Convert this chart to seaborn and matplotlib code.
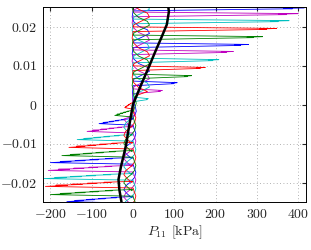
import numpy as np
import pandas as pd
import matplotlib
matplotlib.use('Agg')
import matplotlib.pyplot as plt
import seaborn as sns

# spikes, top to bottom (z, run, tip value in kPa)
spike_z = [0.0248, 0.0233, 0.0215, 0.0195, 0.0174, 0.0154, 0.0136, 0.0115, 0.0095,
           0.0074, 0.0056, 0.0036, 0.0015, -0.0008, -0.0028, -0.0049, -0.0069,
           -0.0090, -0.0110, -0.0131, -0.0149, -0.0169, -0.0190, -0.0210, -0.0231, -0.0249]
spike_run = ['b', 'm', 'c', 'r', 'g'] * 5 + ['b']
spike_tip = [415, 400, 378, 348, 314, 280, 243, 208, 175, 142, 107, 71, 37,
             -20, -44, -82, -111, -135, -155, -172, -200, -205, -215, -212, -200, -160]

# small wiggle between two spikes of the same run (fraction of the gap, kPa)
gap_frac = [0.1, 0.2, 0.3, 0.4, 0.5, 0.62, 0.75, 0.9]
wiggle_top = [3, 22, 40, 35, 14, 2, -2, 0]
wiggle_mid = [1, 4, 8, 6, 2, 0, -1, 0]
wiggle_bot = [-3, -14, -22, -18, -6, 4, 7, 2]

# thick black curve
mean_z = [0.0255, 0.0238, 0.0205, 0.0172, 0.0133, 0.0100, 0.0051, 0.0, -0.0072,
          -0.0100, -0.0115, -0.0159, -0.0192, -0.0218, -0.0255]
mean_p = [85, 87, 82, 69, 53, 40, 20, 0, -12, -16, -19, -29, -35, -33, -27]

runs = ['b', 'm', 'c', 'r', 'g']
cores = {'b': (0, 0, 1), 'm': (0.75, 0, 0.75), 'c': (0, 0.75, 0.75),
         'r': (1, 0, 0), 'g': (0, 0.5, 0)}

xticks = [-200, -100, 0, 100, 200, 300, 400]
yticks = [-0.02, -0.01, 0, 0.01, 0.02]
yticklabels = ['$-0.02$', '$-0.01$', '$0$', '$0.01$', '$0.02$']

# forma da ponta (dz, fracao do pico)
ponta_sup = [(-0.0008, 0.0), (-0.00025, 0.93), (-0.00015, 0.88), (0.0, 1.0), (0.0004, 0.0)]
ponta_inf = [(-0.0004, 0.0), (0.0, 1.0), (0.00025, 0.75), (0.0003, 0.88), (0.0005, 0.58),
             (0.00055, 0.7), (0.00075, 0.42), (0.0008, 0.52), (0.001, 0.25),
             (0.00105, 0.33), (0.0013, 0.0)]

linhas = []
for run in runs:
    idx = [i for i, r in enumerate(spike_run) if r == run]
    zs = [spike_z[i] for i in idx][::-1]
    ps = [spike_tip[i] for i in idx][::-1]
    bordas = [zs[0] - 0.0098] + zs + [zs[-1] + 0.0098]
    ordem = 0
    for k in range(len(bordas) - 1):
        z0, z1 = bordas[k], bordas[k + 1]
        if k > 0:
            p = ps[k - 1]
            forma = ponta_sup if p > 0 else ponta_inf
            for dz, fr in forma:
                linhas.append((run, ordem, fr * p, z0 + dz)); ordem += 1
        for f, wt, wm, wb in zip(gap_frac, wiggle_top, wiggle_mid, wiggle_bot):
            zz = z0 + f * (z1 - z0)
            if abs(zz) < 0.003:
                w = wm
            elif zz > 0:
                w = wt
            else:
                w = wb
            linhas.append((run, ordem, w, zz)); ordem += 1

df = pd.DataFrame(linhas, columns=['run', 'ordem', 'P11', 'z'])

sns.set_style('white')
plt.rcParams['font.family'] = 'serif'
plt.rcParams['font.serif'] = ['cmr10']
plt.rcParams['mathtext.fontset'] = 'cm'
plt.rcParams['axes.formatter.use_mathtext'] = True

fig = plt.figure(figsize=(3.11, 2.5), dpi=100)
ax = fig.add_axes([0.138, 0.192, 0.846, 0.78])

sns.lineplot(data=df, x='P11', y='z', hue='run', hue_order=runs, palette=cores,
             sort=False, estimator=None, legend=False, lw=0.6, ax=ax)
sns.lineplot(x=mean_p, y=mean_z, sort=False, estimator=None, color='k', lw=1.8, ax=ax)

ax.set_xlim(-218, 419)
ax.set_ylim(-0.025, 0.025)
ax.set_xticks(xticks)
ax.set_xticklabels(['$%d$' % v for v in xticks])
ax.set_yticks(yticks)
ax.set_yticklabels(yticklabels)
ax.grid(True, ls=(0, (1, 3)), color='0.6', lw=0.6)
ax.tick_params(direction='in', top=True, right=True, length=3, labelsize=10, pad=4)
for s in ax.spines.values():
    s.set_linewidth(0.7)
    s.set_color('k')
ax.set_xlabel('$P_{11}$ [kPa]', fontsize=10, labelpad=2)
ax.set_ylabel('')

fig.savefig('out.png', dpi=100)
